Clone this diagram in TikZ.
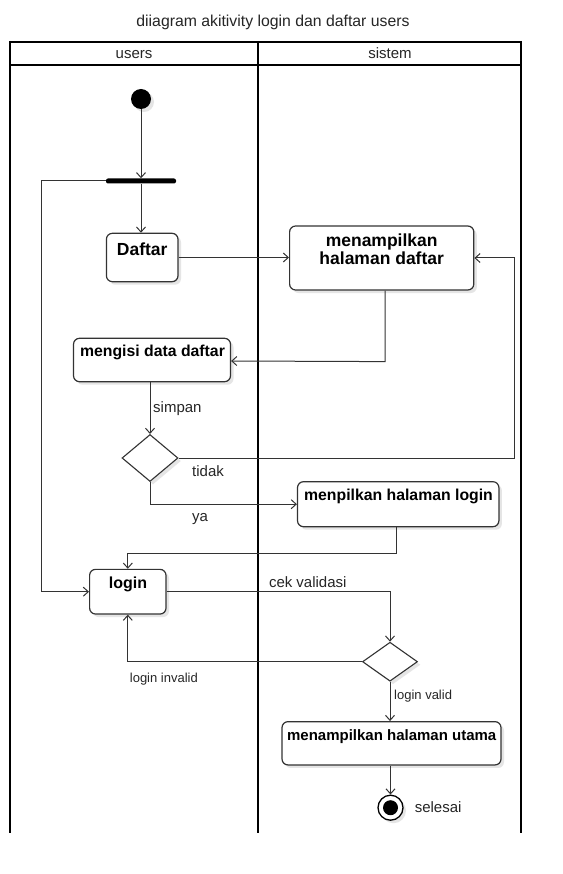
\documentclass[tikz,border=0pt]{standalone}
\usepackage{fontspec}
\setmainfont{Liberation Sans}
\usetikzlibrary{shapes.geometric,arrows.meta,shadows,calc}
\definecolor{linec}{HTML}{333333}
\begin{document}
\begin{tikzpicture}[x=1pt,y=-1pt,
  act/.style={draw=linec, line width=1.2pt, rounded corners=6pt, fill=white, inner sep=0pt,
    drop shadow={shadow xshift=3pt, shadow yshift=-3pt, fill=black!10, opacity=1}},
  decis/.style={diamond, draw=linec, line width=1.1pt, fill=white, inner sep=0pt,
    drop shadow={shadow xshift=3pt, shadow yshift=-3pt, fill=black!10, opacity=1}},
  flow/.style={draw=linec, line width=1pt, -{Straight Barb[length=5pt,width=9pt,line width=1pt]}},
  lane/.style={draw=black, line width=2pt},
  lbl/.style={inner sep=0pt, anchor=base west, font=\fontsize{15}{17}\selectfont, text=black!85},
  slbl/.style={inner sep=0pt, anchor=base west, font=\fontsize{13}{15}\selectfont, text=black!85},
  btxt/.style={inner sep=0pt, anchor=base, font=\bfseries\fontsize{15.5}{17}\selectfont},
  htxt/.style={inner sep=0pt, anchor=base, font=\fontsize{15}{17}\selectfont, text=black!85},
]
\useasboundingbox (0,0) rectangle (562,874);
\fill[white] (0,0) rectangle (562,874);

% title and pool
\node[htxt, font=\fontsize{15.8}{18}\selectfont] (title) at (273,26.5) {diiagram akitivity login dan daftar users};
\draw[lane] (10,42) -- (521,42);
\draw[lane] (10,65) -- (521,65);
\draw[lane] (10,41) -- (10,833);
\draw[lane] (258,41) -- (258,833);
\draw[lane] (521,41) -- (521,833);
\node[htxt] (husers) at (134,58.3) {users};
\node[htxt] (hsistem) at (390,58.3) {sistem};

% nodes
\node[circle, fill=black, minimum size=20pt, inner sep=0pt,
  drop shadow={shadow xshift=3pt, shadow yshift=-3pt, fill=black!10, opacity=1}] (init) at (141,99) {};
\node[rectangle, fill=black, rounded corners=2pt, minimum width=70pt, minimum height=5pt, inner sep=0pt] (bar) at (141,181) {};

\node[act, minimum width=71.6pt, minimum height=48.4pt] (daftar) at (142.2,257.5) {};
\node[btxt, font=\bfseries\fontsize{17.5}{18}\selectfont] (tdaftar) at (142.2,255) {Daftar};

\node[act, minimum width=184.2pt, minimum height=64pt] (menamp) at (381.7,258) {};
\node[btxt, font=\bfseries\fontsize{17.5}{18}\selectfont] (tmenamp1) at (381.7,246.7) {menampilkan};
\node[btxt, font=\bfseries\fontsize{17.5}{18}\selectfont] (tmenamp2) at (381.7,264.3) {halaman daftar};

\node[act, minimum width=157pt, minimum height=43.4pt] (mengisi) at (152,360) {};
\node[btxt, font=\bfseries\fontsize{15.8}{17}\selectfont] (tmengisi) at (152.5,356.7) {mengisi data daftar};

\node[decis, minimum width=56pt, minimum height=47pt] (dec1) at (150,458) {};

\node[act, minimum width=201.4pt, minimum height=45pt] (mlogin) at (398.2,504.2) {};
\node[btxt, font=\bfseries\fontsize{15.8}{17}\selectfont] (tmlogin) at (398.5,500.7) {menpilkan halaman login};

\node[act, minimum width=76.4pt, minimum height=44.7pt] (login) at (127.8,591.7) {};
\node[btxt, font=\bfseries\fontsize{16}{17}\selectfont] (tlogin) at (128,588.3) {login};

\node[decis, minimum width=55pt, minimum height=39pt] (dec2) at (390,661.7) {};

\node[act, minimum width=219pt, minimum height=43.3pt] (utama) at (391.5,743.3) {};
\node[btxt, font=\bfseries\fontsize{15}{17}\selectfont] (tutama) at (391.7,740.3) {menampilkan halaman utama};

\node[circle, draw=black, line width=1.3pt, fill=white, minimum size=25pt, inner sep=0pt,
  drop shadow={shadow xshift=3pt, shadow yshift=-3pt, fill=black!10, opacity=1}] (final) at (390.5,807.7) {};
\node[circle, fill=black, minimum size=15pt, inner sep=0pt] (finalin) at (final.center) {};

% connectors
\draw[flow] (init.south) -- (init.south |- bar.north);
\draw[flow] (bar.south) -- (bar.south |- daftar.north);
\draw[flow] (bar.west) -- ++(-64,0) |- (login.west);
\draw[flow] (daftar.east) -- (daftar.east -| menamp.west);
\draw[flow] ($(menamp.south)+(3.5,0)$) -- ($(menamp.south)+(3.5,71)$) -- ($(mengisi.east)+(0,1)$);
\draw[flow] (dec1.north |- mengisi.south) -- (dec1.north);
\node[lbl] (lsimpan) at (153,412.3) {simpan};
\draw[flow] (dec1.east) -- ++(336,0) |- (menamp.east);
\node[lbl] (ltidak) at (192,476.7) {tidak};
\draw[flow] (dec1.south) |- (mlogin.west);
\node[lbl] (lya) at (192,521.7) {ya};
\draw[flow] ($(mlogin.south)+(-2,0)$) -- ++(0,26.6) -| (login.north);
\draw[flow] (login.east) -| (dec2.north);
\node[lbl] (lcek) at (268.8,587.3) {cek validasi};
\draw[flow] (dec2.west) -| (login.south);
\node[slbl] (linvalid) at (129.7,682.3) {login invalid};
\draw[flow] (dec2.south) -- (dec2.south |- utama.north);
\node[slbl] (lvalid) at (394,699.3) {login valid};
\draw[flow] (final.north |- utama.south) -- (final.north);
\node[lbl] (lselesai) at (414.6,812.3) {selesai};
\end{tikzpicture}
\end{document}
